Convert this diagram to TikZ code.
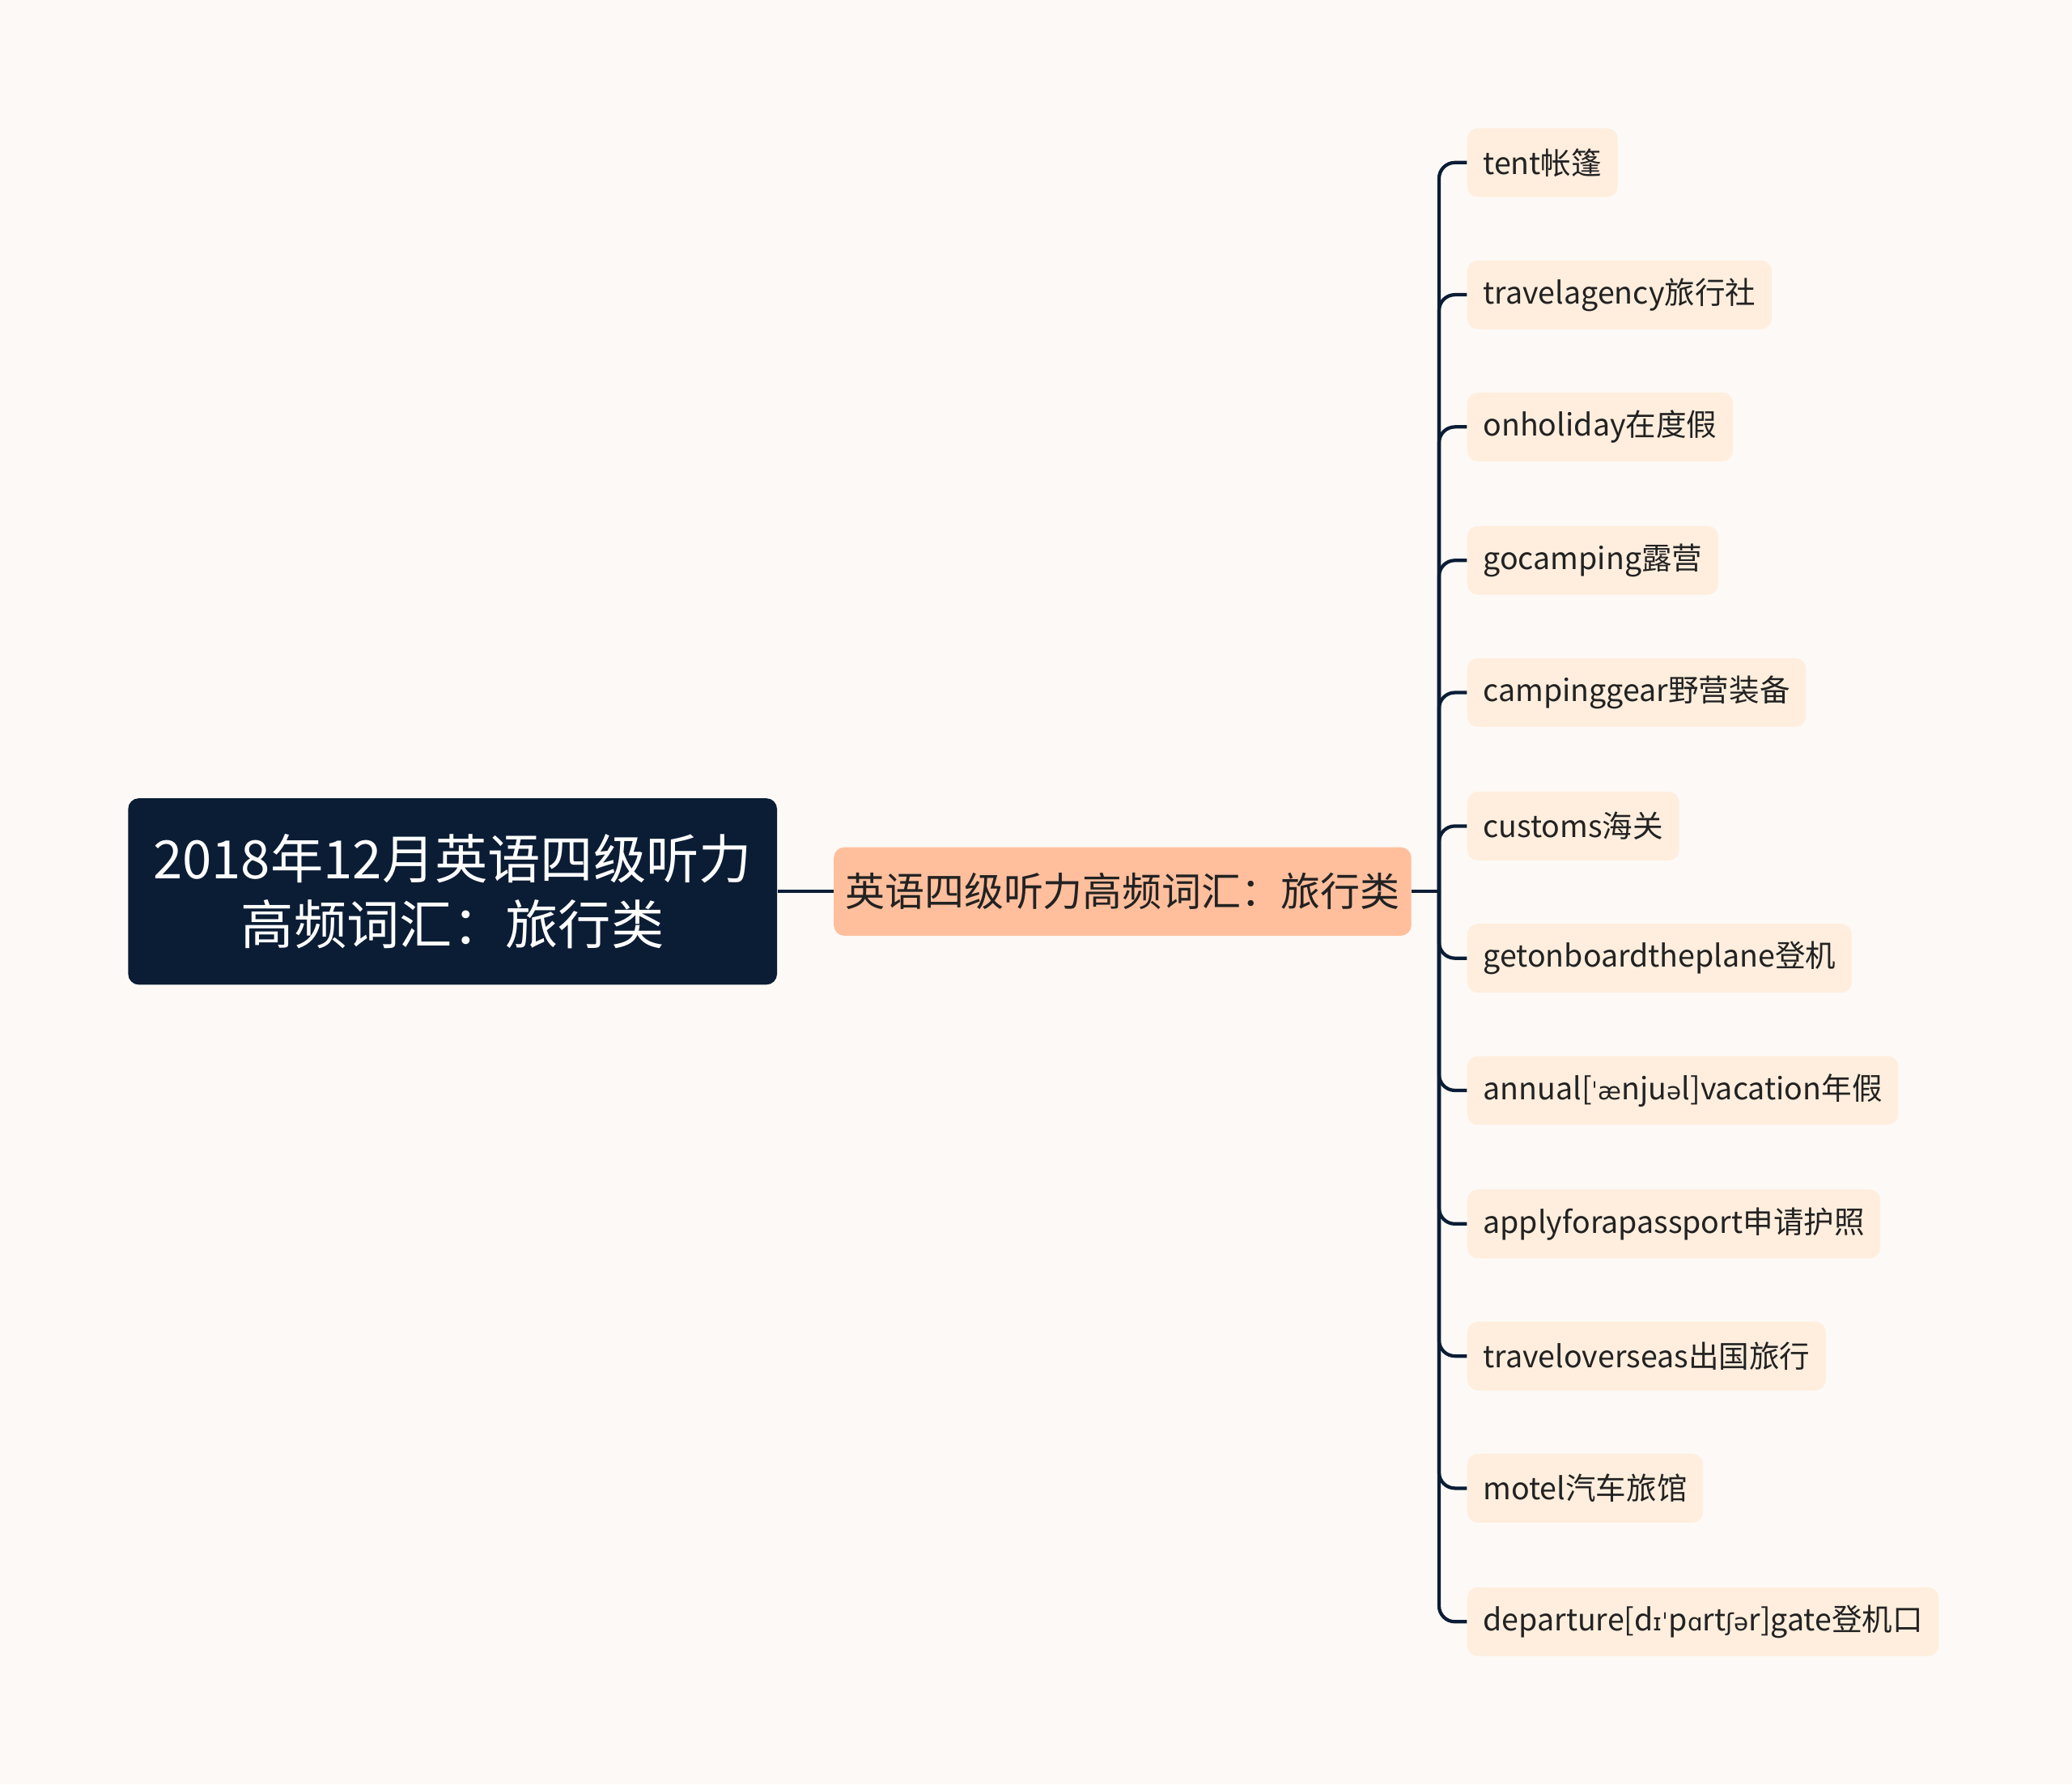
\documentclass[tikz,border=0pt]{standalone}
\usepackage{fontspec}
\setmainfont{Noto Sans CJK SC}
\newfontfamily\ipa{DejaVu Sans}
\definecolor{bg}{HTML}{FDF9F6}
\definecolor{navy}{HTML}{0B1D35}
\definecolor{midc}{HTML}{FFBF9D}
\definecolor{leafc}{HTML}{FFEEDD}
\definecolor{txt}{HTML}{222222}
\tikzset{
 rootbox/.style={fill=navy,rounded corners=4pt,text=white,font=\fontsize{20}{25}\selectfont,align=center,minimum width=245.5pt,minimum height=70.5pt},
 midbox/.style={fill=midc,rounded corners=4pt,text=txt,font=\fontsize{15}{18}\selectfont,minimum width=218.5pt,minimum height=33.5pt},
 leafbox/.style={fill=leafc,rounded corners=4pt,text=txt,font=\fontsize{11.5}{14}\selectfont,anchor=west,inner xsep=6pt,minimum height=26pt},
 conn/.style={draw=navy,line width=1.3pt,rounded corners=6pt}
}
\begin{document}
\begin{tikzpicture}[x=0.5pt,y=-0.5pt]
\fill[bg] (0,0) rectangle (1568,1350);
\useasboundingbox (0,0) rectangle (1568,1350);
\node[rootbox] (root) at (342.5,674.5) {2018年12月英语四级听力\\高频词汇：旅行类};
\node[midbox] (mid) at (849.5,674.5) {英语四级听力高频词汇：旅行类};
\coordinate (tr) at (1089,674.5);
\node[leafbox] (l1) at (1110,123) {tent帐篷};
\node[leafbox] (l2) at (1110,223) {travelagency旅行社};
\node[leafbox] (l3) at (1110,323) {onholiday在度假};
\node[leafbox] (l4) at (1110,424) {gocamping露营};
\node[leafbox] (l5) at (1110,524) {campinggear野营装备};
\node[leafbox] (l6) at (1110,625) {customs海关};
\node[leafbox] (l7) at (1110,725) {getonboardtheplane登机};
\node[leafbox] (l8) at (1110,825) {annual[{\ipa\small ˈæ}nju{\ipa\small ə}l]vacation年假};
\node[leafbox] (l9) at (1110,926) {applyforapassport申请护照};
\node[leafbox] (l10) at (1110,1026) {traveloverseas出国旅行};
\node[leafbox] (l11) at (1110,1126) {motel汽车旅馆};
\node[leafbox] (l12) at (1110,1227) {departure[d{\ipa\small ɪˈ}p{\ipa\small ɑ}rt{\ipa\small ʃə}r]gate登机口};
\draw[conn] (root.east) -- (mid.west);
\draw[conn] (mid.east) -- (tr);
\foreach \i in {1,...,12}{\draw[conn] (tr) |- (l\i.west);}
\end{tikzpicture}
\end{document}
